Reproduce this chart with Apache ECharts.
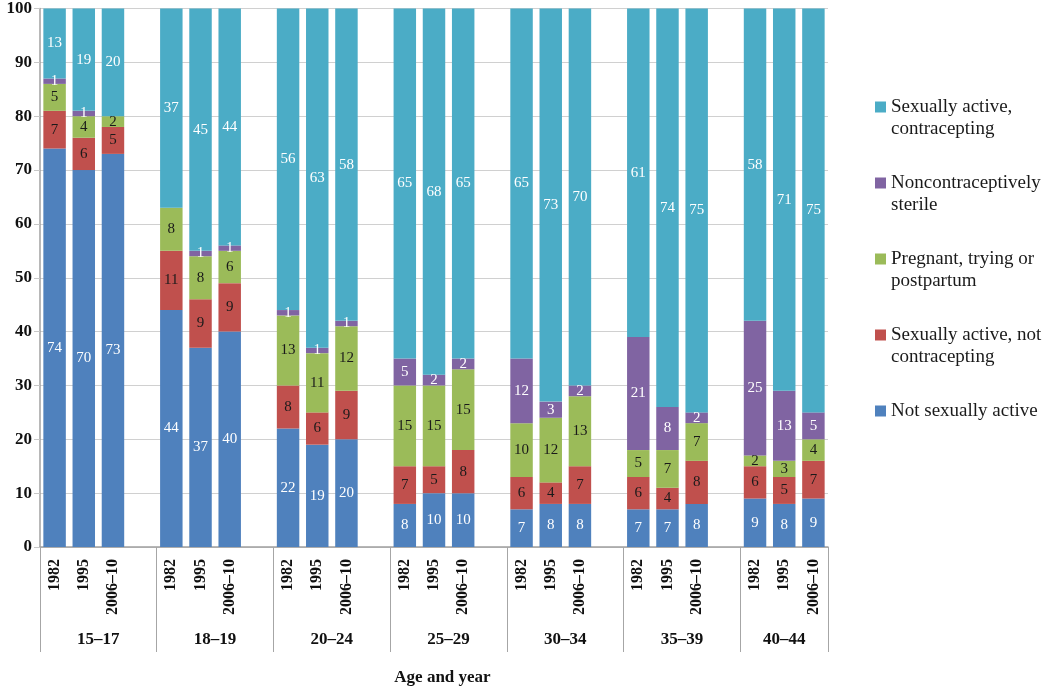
<!DOCTYPE html>
<html>
<head>
<meta charset="utf-8">
<script src="https://cdn.jsdelivr.net/npm/echarts@6/dist/echarts.min.js"></script>
<style>
  html, body { margin: 0; padding: 0; background: #fff; }
  #chart { width: 1050px; height: 689px; }
</style>
</head>
<body>
<div id="chart"></div>
<script>
// 年份 / 年龄组
const years = ['1982', '1995', '2006–10'];
const ageGroups = ['15–17', '18–19', '20–24', '25–29', '30–34', '35–39', '40–44'];

// one value per bar, 3 bars per age group
const notActive      = [74, 70, 73, 44, 37, 40, 22, 19, 20, 8, 10, 10, 7, 8, 8, 7, 7, 8, 9, 8, 9];
const activeNoContra = [7, 6, 5, 11, 9, 9, 8, 6, 9, 7, 5, 8, 6, 4, 7, 6, 4, 8, 6, 5, 7];
const pregnant       = [5, 4, 2, 8, 8, 6, 13, 11, 12, 15, 15, 15, 10, 12, 13, 5, 7, 7, 2, 3, 4];
const sterile        = [1, 1, 0, 0, 1, 1, 1, 1, 1, 5, 2, 2, 12, 3, 2, 21, 8, 2, 25, 13, 5];
const contracepting  = [13, 19, 20, 37, 45, 44, 56, 63, 58, 65, 68, 65, 65, 73, 70, 61, 74, 75, 58, 71, 75];

const yTicks = [0, 10, 20, 30, 40, 50, 60, 70, 80, 90, 100];

const seriesNames = [
  'Not sexually active',
  'Sexually active, not contracepting',
  'Pregnant, trying or postpartum',
  'Noncontraceptively sterile',
  'Sexually active, contracepting'
];
// two lines each so the marker sits on the first line
const legendText = {
  'Sexually active, contracepting': 'Sexually active,\ncontracepting',
  'Noncontraceptively sterile': 'Noncontraceptively\nsterile',
  'Pregnant, trying or postpartum': 'Pregnant, trying or\npostpartum',
  'Sexually active, not contracepting': 'Sexually active, not\ncontracepting',
  'Not sexually active': 'Not sexually active\n '
};
const colors = ['#4F81BD', '#C0504D', '#9BBB59', '#8064A2', '#4BACC6'];
const labelColors = ['#fff', '#1a1a1a', '#1a1a1a', '#fff', '#fff'];
const serif = 'Liberation Serif';

// categories with an empty slot between age groups
const categories = [];
const slotIndex = [];
ageGroups.forEach((g, gi) => {
  years.forEach(y => { slotIndex.push(categories.length); categories.push(y); });
  if (gi < ageGroups.length - 1) categories.push('');
});

function spread(values) {
  const out = categories.map(() => null);
  values.forEach((v, i) => { out[slotIndex[i]] = v; });
  return out;
}

// group boundaries / centres on a 0..27 slot scale
const groupEdges = [];
const groupCentres = [];
let pos = 0;
ageGroups.forEach((g, gi) => {
  const w = gi < ageGroups.length - 1 ? 4 : 3;
  groupEdges.push(pos);
  groupCentres.push(pos + w / 2);
  pos += w;
});
groupEdges.push(pos);

const allValues = [notActive, activeNoContra, pregnant, sterile, contracepting];

const series = allValues.map((vals, i) => ({
  name: seriesNames[i],
  type: 'bar',
  stack: 'total',
  barCategoryGap: '23%',
  data: spread(vals),
  itemStyle: { color: colors[i] },
  label: {
    show: true,
    position: 'inside',
    color: labelColors[i],
    fontFamily: serif,
    fontSize: 15,
    formatter: p => (p.value ? String(p.value) : '')
  }
}));

const chart = echarts.init(document.getElementById('chart'));
chart.setOption({
  animation: false,
  textStyle: { fontFamily: serif },
  grid: [
    { left: 40, right: 222, top: 7, bottom: 142 },
    { left: 40, right: 222, top: 546, height: 1 }
  ],
  legend: {
    orient: 'vertical',
    left: 870,
    top: 91,
    itemWidth: 11,
    itemHeight: 33,
    itemGap: 32,
    icon: 'path://M0,0h11v11h-11z M11,33',
    data: seriesNames.slice().reverse(),
    formatter: n => legendText[n],
    textStyle: { fontFamily: serif, fontSize: 19, color: '#1a1a1a', lineHeight: 22 }
  },
  xAxis: [
    {
      type: 'category',
      gridIndex: 0,
      data: categories,
      axisLine: { lineStyle: { color: '#a0a0a0', width: 1.5 } },
      axisTick: { interval: 0, length: 72, lineStyle: { color: '#a6a6a6' } },
      axisLabel: {
        interval: 0,
        rotate: 90,
        margin: 12,
        color: '#111',
        fontFamily: serif,
        fontWeight: 'bold',
        fontSize: 16
      }
    },
    {
      type: 'value',
      gridIndex: 1,
      min: 0,
      max: pos,
      position: 'bottom',
      axisLine: { show: false },
      splitLine: { show: false },
      axisTick: { show: true, customValues: groupEdges, length: 105, lineStyle: { color: '#a6a6a6' } },
      axisLabel: {
        customValues: groupCentres,
        margin: 84,
        color: '#111',
        fontFamily: serif,
        fontWeight: 'bold',
        fontSize: 17,
        formatter: v => ageGroups[groupCentres.indexOf(v)] || ''
      },
      name: 'Age and year',
      nameLocation: 'middle',
      nameGap: 122,
      nameTextStyle: { fontFamily: serif, fontWeight: 'bold', fontSize: 17, color: '#111', padding: [0, 0, 0, 17] }
    }
  ],
  yAxis: [
    {
      type: 'value',
      gridIndex: 0,
      min: yTicks[0],
      max: yTicks[yTicks.length - 1],
      interval: 10,
      axisLine: { show: true, lineStyle: { color: '#a0a0a0', width: 1.5 } },
      axisTick: { show: true, length: 6, lineStyle: { color: '#c8c8c8' } },
      splitLine: { lineStyle: { color: '#d0d0d0', width: 1.2 } },
      axisLabel: { margin: 8, color: '#111', fontFamily: serif, fontWeight: 'bold', fontSize: 17 }
    },
    { type: 'value', gridIndex: 1, show: false }
  ],
  series: series
});
</script>
</body>
</html>
